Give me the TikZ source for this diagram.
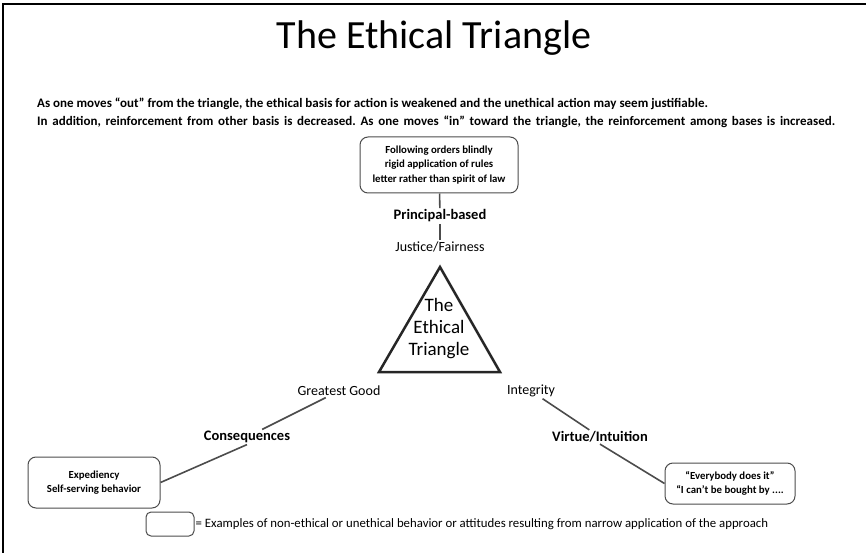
\documentclass[tikz,border=0pt]{standalone}
\usepackage{fontspec}
\setmainfont{Carlito}
\frenchspacing
\tikzset{
  ebox/.style={draw=black!70,line width=1pt,rounded corners=8pt,align=center,
    font=\bfseries\fontsize{10.8}{14.5}\selectfont,inner sep=0pt},
  base/.style={font=\bfseries\fontsize{14.5}{17}\selectfont,inner sep=1.5pt},
  value/.style={font=\fontsize{14}{17}\selectfont,inner sep=1.5pt},
  link/.style={draw=black!70,line width=1.6pt}
}
\begin{document}
\begin{tikzpicture}
  [x=1pt,y=-1pt]
  \useasboundingbox (0,0) rectangle (866,553);
  \draw[line width=2.5pt] (3,553) -- (3,4) -- (866,4);
  % title and notes
  \node (title)[anchor=base,font=\fontsize{40}{44}\selectfont] at (434,49) {The Ethical Triangle};
  \node (note1)[anchor=base west,inner sep=0pt,font=\bfseries\fontsize{13}{15}\selectfont] at (37,108)
    {As one moves “out” from the triangle, the ethical basis for action is weakened and the unethical action may seem justifiable.};
  \node (note2)[anchor=base west,inner sep=0pt,font=\bfseries\fontsize{13}{15}\selectfont] at (37,126)
    {\makebox[798pt][s]{In addition, reinforcement from other basis is decreased. As one moves “in” toward the triangle, the reinforcement among bases is increased.}};
  % the triangle
  \draw[line width=2.5pt,draw=black!85,line join=miter] (440,267) -- (500,372) -- (379,372) -- cycle;
  \node (tri)[align=center,font=\fontsize{19}{22}\selectfont] at (439,329) {The\\Ethical\\Triangle};
  % bases and values
  \node (just)[value] at (440,247) {Justice/Fairness};
  \node (prin)[base] at (440,216) {Principal-based};
  \node (good)[value] at (339,391) {Greatest Good};
  \node (cons)[base] at (247,437) {Consequences};
  \node (integ)[value] at (531,391) {Integrity};
  \node (virt)[base] at (600,437) {Virtue/Intuition};
  % narrow applications
  \node (rules)[ebox,minimum width=158pt,minimum height=56pt] at (439,165)
    {Following orders blindly\\rigid application of rules\\letter rather than spirit of law};
  \node (exped)[ebox,minimum width=132pt,minimum height=51pt] at (94,482.5)
    {Expediency\\Self-serving behavior};
  \node (every)[ebox,minimum width=130pt,minimum height=41pt] at (730,483.5)
    {“Everybody does it”\\“I can’t be bought by ....};
  \foreach \from/\to in {rules/prin,prin/just,good/cons,integ/virt}
    \draw[link] (\from) -- (\to);
  \draw[link] (cons.south) -- (exped.east);
  \draw[link] (virt.south) -- (every.west);
  % legend
  \node (key)[ebox,minimum width=48pt,minimum height=24pt,rounded corners=5pt] at (170,524) {};
  \node (keytext)[anchor=west,inner sep=1pt,font=\fontsize{12.8}{14}\selectfont] at (key.east)
    {= Examples of non-ethical or unethical behavior or attitudes resulting from narrow application of the approach};
\end{tikzpicture}
\end{document}
